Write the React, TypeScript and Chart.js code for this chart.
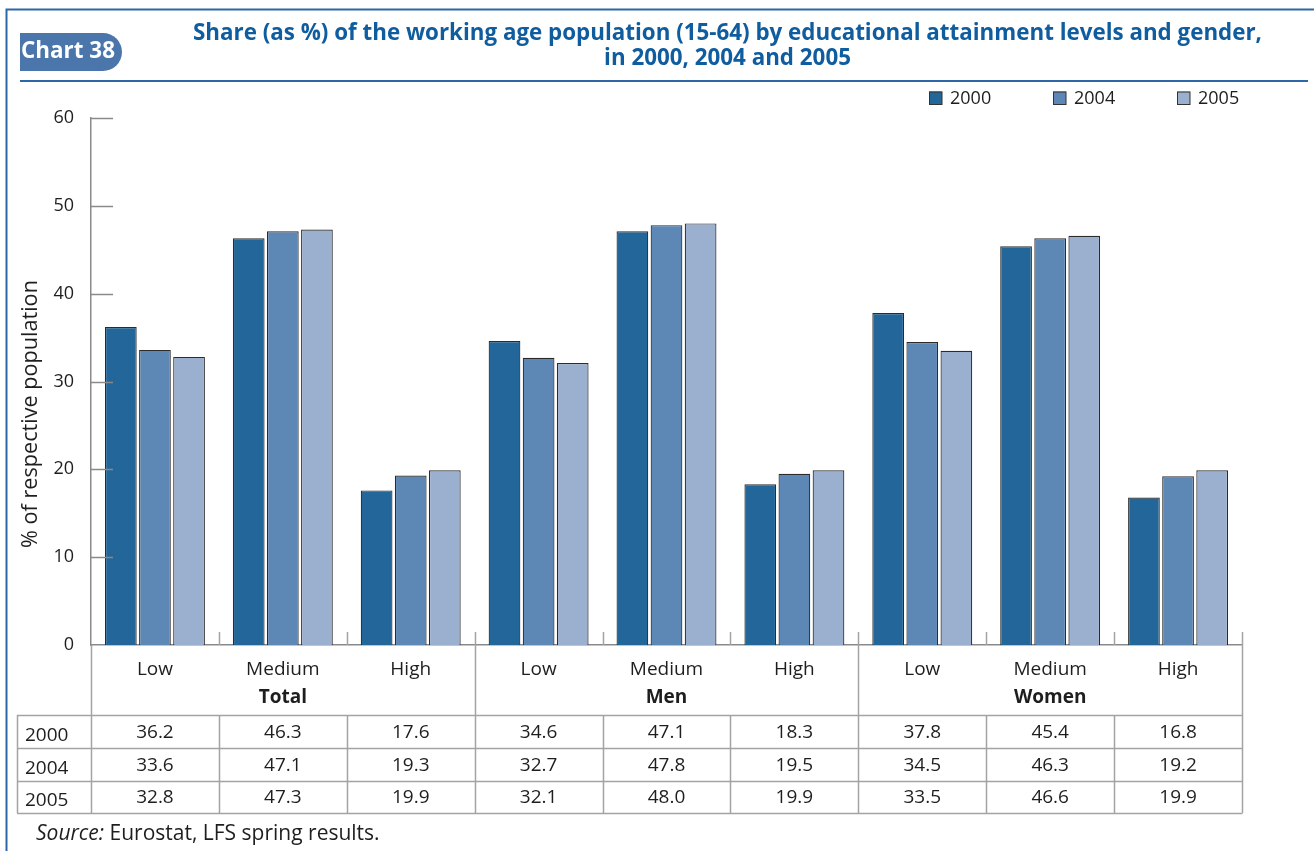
import React, { useEffect, useRef } from 'react';
import { Chart, registerables } from 'chart.js';

Chart.register(...registerables);

const FONT = '"Open Sans", "Noto Sans", sans-serif';

const categories = ['Low', 'Medium', 'High', 'Low', 'Medium', 'High', 'Low', 'Medium', 'High'];
const groups = ['Total', 'Men', 'Women'];
const seriesLabels = ['2000', '2004', '2005'];
const values2000 = [36.2, 46.3, 17.6, 34.6, 47.1, 18.3, 37.8, 45.4, 16.8];
const values2004 = [33.6, 47.1, 19.3, 32.7, 47.8, 19.5, 34.5, 46.3, 19.2];
const values2005 = [32.8, 47.3, 19.9, 32.1, 48.0, 19.9, 33.5, 46.6, 19.9];
const seriesColors = ['#236699', '#5d87b4', '#9bb0cf'];
const yMin = 0;
const yMax = 60;
const yStep = 10;

const titleLines = [
  'Share (as %) of the working age population (15-64) by educational attainment levels and gender,',
  'in 2000, 2004 and 2005',
];
const badgeText = 'Chart 38';
const yTitle = '% of respective population';
const sourceLabel = 'Source:';
const sourceText = ' Eurostat, LFS spring results.';

const FRAME = '#2e67a5';
const BADGE = '#4b76ab';
const TITLE = '#0f5c9f';
const TEXT = '#1e1e1e';
const GRID = '#a3a3a3';
const AXIS = '#8a8a8a';

function fitSize(ctx: CanvasRenderingContext2D, text: string, prefix: string, target: number, base: number) {
  ctx.font = `${prefix} ${base}px ${FONT}`;
  const w = ctx.measureText(text).width;
  return (base * target) / w;
}

const decor = {
  id: 'decor',
  afterDraw(chart: any) {
    const ctx: CanvasRenderingContext2D = chart.ctx;
    const x = chart.scales.x;
    const y = chart.scales.y;
    const W = chart.width;
    const H = chart.height;
    ctx.save();

    // frame
    ctx.strokeStyle = FRAME;
    ctx.lineWidth = 2;
    ctx.beginPath();
    ctx.moveTo(6.5, H);
    ctx.lineTo(6.5, 9.5);
    ctx.lineTo(W, 9.5);
    ctx.stroke();
    ctx.beginPath();
    ctx.moveTo(20, 81);
    ctx.lineTo(1308, 81);
    ctx.stroke();

    // badge
    const bx = 20, by = 33, bw = 102, bh = 38, r = 19;
    ctx.fillStyle = BADGE;
    ctx.beginPath();
    ctx.moveTo(bx, by);
    ctx.lineTo(bx + bw - r, by);
    ctx.arc(bx + bw - r, by + r, r, -Math.PI / 2, Math.PI / 2);
    ctx.lineTo(bx, by + bh);
    ctx.closePath();
    ctx.fill();
    const bsize = fitSize(ctx, badgeText, 'bold', 94, 20);
    ctx.font = `bold ${bsize}px ${FONT}`;
    ctx.fillStyle = '#ffffff';
    ctx.textAlign = 'left';
    ctx.textBaseline = 'alphabetic';
    ctx.fillText(badgeText, 21, 58);

    // title
    const tsize = fitSize(ctx, titleLines[0], 'bold', 1069, 20);
    ctx.font = `bold ${tsize}px ${FONT}`;
    ctx.fillStyle = TITLE;
    ctx.textAlign = 'center';
    ctx.fillText(titleLines[0], 727.5, 39.5);
    ctx.fillText(titleLines[1], 727.5, 64.5);

    // legend
    ctx.font = `18px ${FONT}`;
    ctx.textAlign = 'left';
    ctx.textBaseline = 'middle';
    chart.data.datasets.forEach((ds: any, i: number) => {
      const lx = 929 + i * 124;
      ctx.fillStyle = ds.backgroundColor;
      ctx.fillRect(lx, 91.5, 13, 13);
      ctx.strokeStyle = '#333';
      ctx.lineWidth = 1;
      ctx.strokeRect(lx + 0.5, 92, 12.5, 12.5);
      ctx.fillStyle = TEXT;
      ctx.fillText(ds.label, lx + 21, 99);
    });

    // inward y ticks
    ctx.strokeStyle = AXIS;
    ctx.lineWidth = 1.5;
    y.ticks.forEach((t: any) => {
      if (t.value === yMin) return;
      const py = Math.round(y.getPixelForValue(t.value)) + 0.5;
      ctx.beginPath();
      ctx.moveTo(y.right, py);
      ctx.lineTo(y.right + 22, py);
      ctx.stroke();
    });

    // category boundaries
    const n = categories.length;
    const bounds: number[] = [];
    for (let i = 0; i <= n; i++) {
      if (i === 0) bounds.push(x.left);
      else if (i === n) bounds.push(x.right);
      else bounds.push((x.getPixelForValue(i - 1) + x.getPixelForValue(i)) / 2);
    }
    const axisY = x.top;
    const rowTops = [715, 748, 781, 813];
    ctx.strokeStyle = GRID;
    ctx.lineWidth = 1.5;
    bounds.forEach((bxp, i) => {
      const px = Math.round(bxp) + 0.5;
      ctx.beginPath();
      if (i === 0) {
        ctx.moveTo(px, axisY);
        ctx.lineTo(px, rowTops[3]);
      } else if (i % 3 === 0) {
        ctx.moveTo(px, axisY - 13);
        ctx.lineTo(px, rowTops[3]);
      } else {
        ctx.moveTo(px, axisY - 13);
        ctx.lineTo(px, axisY);
        ctx.moveTo(px, rowTops[0]);
        ctx.lineTo(px, rowTops[3]);
      }
      ctx.stroke();
    });
    // table horizontals
    rowTops.forEach((ry) => {
      ctx.beginPath();
      ctx.moveTo(17, ry + 0.5);
      ctx.lineTo(x.right + 0.5, ry + 0.5);
      ctx.stroke();
    });
    ctx.beginPath();
    ctx.moveTo(17.5, rowTops[0]);
    ctx.lineTo(17.5, rowTops[3]);
    ctx.stroke();

    // category & group labels
    ctx.fillStyle = TEXT;
    ctx.textAlign = 'center';
    ctx.textBaseline = 'middle';
    ctx.font = `19px ${FONT}`;
    categories.forEach((c, i) => {
      ctx.fillText(c, x.getPixelForValue(i), 670);
    });
    ctx.font = `bold 19px ${FONT}`;
    groups.forEach((g, gi) => {
      const cx = (bounds[gi * 3] + bounds[gi * 3 + 3]) / 2;
      ctx.fillText(g, cx, 698);
    });

    // table values
    ctx.font = `19px ${FONT}`;
    const rows = [values2000, values2004, values2005];
    rows.forEach((vals, ri) => {
      const cy = (rowTops[ri] + rowTops[ri + 1]) / 2 + 1;
      ctx.textAlign = 'left';
      ctx.fillText(seriesLabels[ri], 25, cy + 3);
      ctx.textAlign = 'center';
      vals.forEach((v, i) => {
        ctx.fillText(v.toFixed(1), x.getPixelForValue(i), cy);
      });
    });

    // source
    ctx.textAlign = 'left';
    ctx.textBaseline = 'alphabetic';
    ctx.font = `italic 21px ${FONT}`;
    ctx.fillText(sourceLabel, 36, 840);
    const sw = ctx.measureText(sourceLabel).width;
    ctx.font = `21px ${FONT}`;
    ctx.fillText(sourceText, 36 + sw, 840);

    // y title
    const ysize = fitSize(ctx, yTitle, '', 268, 18);
    ctx.font = `${ysize}px ${FONT}`;
    ctx.translate(37, 414);
    ctx.rotate(-Math.PI / 2);
    ctx.textAlign = 'center';
    ctx.fillText(yTitle, 0, 0);

    ctx.restore();
  },
};

export default function App() {
  const ref = useRef<HTMLCanvasElement | null>(null);
  useEffect(() => {
    if (!ref.current) return;
    const chart = new Chart(ref.current, {
      type: 'bar',
      data: {
        labels: categories,
        datasets: [values2000, values2004, values2005].map((vals, i) => ({
          label: seriesLabels[i],
          data: vals,
          backgroundColor: seriesColors[i],
          borderColor: '#2b2b2b',
          borderWidth: 1.2,
        })),
      },
      options: {
        responsive: false,
        animation: false,
        devicePixelRatio: 1,
        layout: { padding: { top: 118, right: 72, left: 0, bottom: 0 } },
        datasets: { bar: { categoryPercentage: 0.8, barPercentage: 0.93 } },
        plugins: {
          legend: { display: false },
          tooltip: { enabled: false },
          title: { display: false },
        },
        scales: {
          x: {
            grid: { display: false, drawTicks: false },
            border: { display: true, color: AXIS, width: 1.5 },
            ticks: { display: false },
            afterFit: (s: any) => {
              s.height = 206;
            },
          },
          y: {
            min: yMin,
            max: yMax,
            ticks: { stepSize: yStep, padding: 17, color: TEXT, font: { family: FONT, size: 18 } },
            grid: { display: false, drawTicks: false },
            border: { display: true, color: AXIS, width: 1.5 },
            afterFit: (s: any) => {
              s.width = 91;
            },
          },
        },
      } as any,
      plugins: [decor],
    });
    return () => chart.destroy();
  }, []);
  return (
    <div style={{ position: 'absolute', left: 0, top: 0, width: 1314, height: 851, background: '#fff' }}>
      <canvas ref={ref} width={1314} height={851} />
    </div>
  );
}
